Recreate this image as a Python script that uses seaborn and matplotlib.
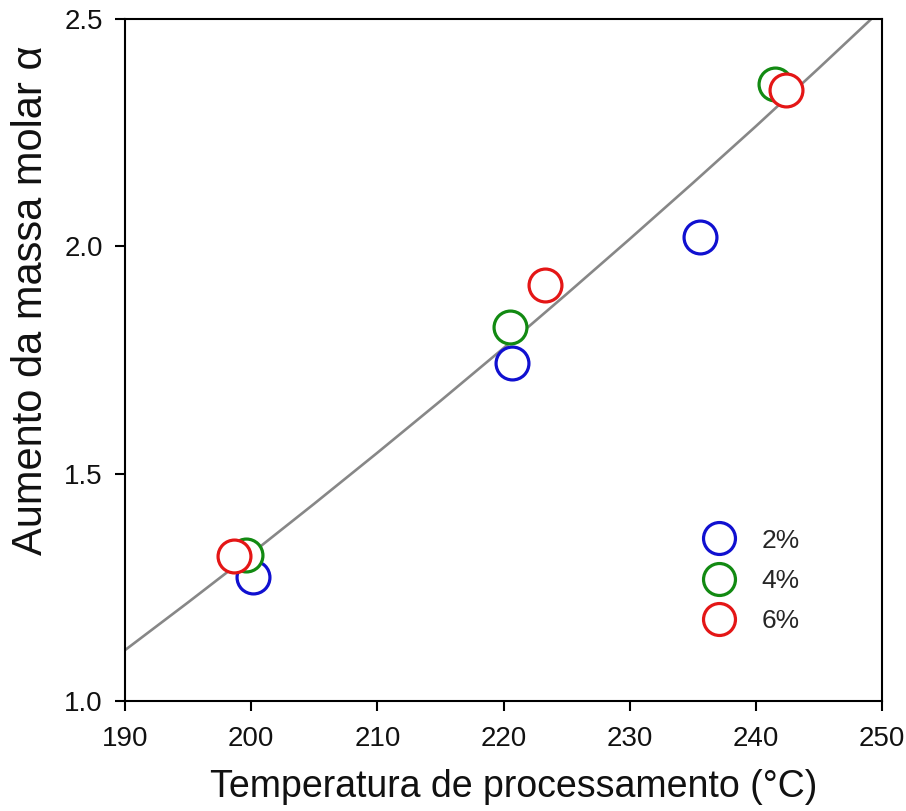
import matplotlib
matplotlib.use("Agg")
import matplotlib.pyplot as plt
from matplotlib.lines import Line2D
import seaborn as sns
import pandas as pd

# Measured points for each concentration
series_labels = ["2%", "4%", "6%"]
series_colors = ["#1010d0", "#128a12", "#e41616"]
temp_2 = [200.15, 220.65, 235.6]
alpha_2 = [1.272, 1.744, 2.021]
temp_4 = [199.6, 220.5, 241.5]
alpha_4 = [1.321, 1.823, 2.356]
temp_6 = [198.6, 223.3, 242.4]
alpha_6 = [1.319, 1.916, 2.343]

# Fitted trend curve
curve_temp = [190, 195, 200, 205, 210, 215, 220, 225, 230, 235, 240, 245, 250]
curve_alpha = [1.112, 1.217, 1.324, 1.434, 1.546, 1.660, 1.776, 1.895, 2.016,
               2.139, 2.264, 2.392, 2.522]

x_ticks = [190, 200, 210, 220, 230, 240, 250]
y_ticks = [1.0, 1.5, 2.0, 2.5]

sns.set_theme(style="white")
plt.rcParams["font.family"] = ["Liberation Sans", "DejaVu Sans"]

fig = plt.figure(figsize=(9.06, 8.11), dpi=100)
ax = fig.add_axes([0.138, 0.1356, 0.8355, 0.841])

sns.lineplot(x=curve_temp, y=curve_alpha, color="#878787", linewidth=1.9,
             ax=ax, zorder=2)

for xs, ys, col in zip([temp_2, temp_4, temp_6], [alpha_2, alpha_4, alpha_6],
                       series_colors):
    df = pd.DataFrame({"T": xs, "a": ys})
    sns.scatterplot(data=df, x="T", y="a", s=560, marker="o", linewidth=2.3,
                    ax=ax, zorder=3, legend=False)
    coll = ax.collections[-1]
    coll.set_facecolor("white")
    coll.set_edgecolor(col)

ax.set_xlim(190, 250)
ax.set_ylim(1.0, 2.5)
ax.set_xticks(x_ticks)
ax.set_yticks(y_ticks)
ax.set_xticklabels([str(t) for t in x_ticks])
ax.set_yticklabels([f"{t:.1f}" for t in y_ticks])

for side in ["left", "bottom", "top", "right"]:
    ax.spines[side].set_visible(True)
    ax.spines[side].set_color("black")
    ax.spines[side].set_linewidth(1.5)

ax.tick_params(axis="both", which="major", direction="out", length=7,
               width=1.5, color="black", labelsize=20, labelcolor="#111111",
               bottom=True, left=True, top=False, right=False)
ax.tick_params(axis="x", pad=11)
ax.tick_params(axis="y", pad=9)

ax.set_xlabel("Temperatura de processamento (°C)", fontsize=27,
              color="#111111")
ax.xaxis.set_label_coords(0.513, -0.1)
ax.set_ylabel("Aumento da massa molar α", fontsize=30, color="#111111")
ax.yaxis.set_label_coords(-0.098, 0.588)

handles = [Line2D([], [], linestyle="none", marker="o", markersize=23,
                  markerfacecolor="white", markeredgecolor=c,
                  markeredgewidth=2.3) for c in series_colors]
ax.legend(handles, series_labels, loc="upper left",
          bbox_to_anchor=(0.732, 0.272), frameon=False, fontsize=19,
          handletextpad=0.62, labelspacing=0.62, borderpad=0)

fig.savefig("out.png", dpi=100, facecolor="white")
